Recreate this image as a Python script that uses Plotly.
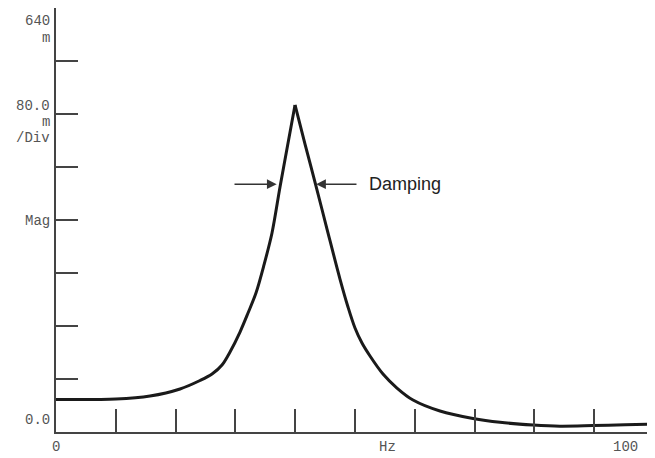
import plotly.graph_objects as go

# frequency response (peak is a sharp cusp)
freq_hz = [0, 10.03, 15.72, 20.74, 24.08, 26.09, 27.76, 29.10, 30.77, 32.11,
           33.44, 34.78, 36.12, 37.46, 38.71, 39.97,
           41.64, 43.48, 45.32, 47.49, 48.83, 50.00, 51.17, 52.51, 54.68,
           57.02, 59.70, 64.21, 69.73, 74.25, 79.77, 84.28, 89.80, 95.15, 100]
mag_m = [49.1, 49.8, 54.3, 64.9, 77.7, 87.5, 101.1, 120.8, 150.9, 179.6,
         209.8, 252.1, 300.4, 369.8, 431.7, 493.6,
         434.7, 371.3, 306.4, 230.9, 188.7, 157.0, 134.3, 114.7, 87.5,
         66.4, 48.3, 31.7, 20.4, 14.6, 10.6, 8.8, 9.7, 10.9, 12.1]

y_ticks = [0, 80, 160, 240, 320, 400, 480, 560, 640]
x_ticks = [0, 10, 20, 30, 40, 50, 60, 70, 80, 90, 100]

MONO = "Liberation Mono"
GRAY = "#555555"

# draw each flank as its own smooth line so the peak stays pointed
peak = mag_m.index(max(mag_m))
fig = go.Figure()
for sl in (slice(0, peak + 1), slice(peak, None)):
    fig.add_trace(go.Scatter(
        x=freq_hz[sl], y=mag_m[sl], mode="lines",
        line=dict(color="#1a1a1a", width=3, shape="spline", smoothing=0.9),
        showlegend=False, hoverinfo="skip",
    ))

# page body has an 8px margin, so the figure is sized/offset to land the
# plot area where the reference has it
fig.update_layout(
    width=647, height=450,
    margin=dict(l=48, r=1, t=0, b=26),
    paper_bgcolor="white", plot_bgcolor="white",
    xaxis=dict(range=[0, 100], tickvals=x_ticks, showticklabels=False,
               ticks="inside", ticklen=23, tickwidth=1.5, tickcolor="#444",
               showline=True, linecolor="#444", linewidth=1.5,
               showgrid=False, zeroline=False, fixedrange=True),
    yaxis=dict(range=[0, 640], tickvals=y_ticks, showticklabels=False,
               ticks="inside", ticklen=22, tickwidth=1.5, tickcolor="#444",
               showline=True, linecolor="#444", linewidth=1.5,
               showgrid=False, zeroline=False, fixedrange=True),
)

# left side labels (monospace, right aligned against the axis)
left_labels = [("640", 620.8), ("m", 595), ("80.0", 492), ("m", 468), ("/Div", 444),
               ("Mag", 318), ("0.0", 18)]
for txt, yv in left_labels:
    fig.add_annotation(text=txt, x=0, xref="paper", xanchor="right", xshift=-5,
                       y=yv, yref="y", yanchor="middle", showarrow=False, borderpad=0,
                       font=dict(family=MONO, size=14, color=GRAY))

# bottom labels
for txt, xv in [("0", 0), ("Hz", 55.4), ("100", 95.2)]:
    fig.add_annotation(text=txt, x=xv, xref="x", xanchor="center",
                       y=0, yref="paper", yanchor="top", yshift=-6, showarrow=False,
                       borderpad=0, font=dict(family=MONO, size=14, color=GRAY))

# damping arrows
arrow_y = 374
fig.add_annotation(x=36.9, y=arrow_y, ax=29.6, ay=arrow_y, xref="x", yref="y",
                   axref="x", ayref="y", showarrow=True, arrowhead=2, arrowsize=1.3,
                   arrowwidth=1.5, arrowcolor="#333", text="")
fig.add_annotation(x=43.5, y=arrow_y, ax=50.5, ay=arrow_y, xref="x", yref="y",
                   axref="x", ayref="y", showarrow=True, arrowhead=2, arrowsize=1.3,
                   arrowwidth=1.5, arrowcolor="#333", text="")
fig.add_annotation(text="Damping", x=52.0, y=arrow_y, xref="x", yref="y",
                   xanchor="left", yanchor="middle", showarrow=False,
                   font=dict(family="Liberation Sans", size=18, color="#222"))

fig.write_html("out.html")
